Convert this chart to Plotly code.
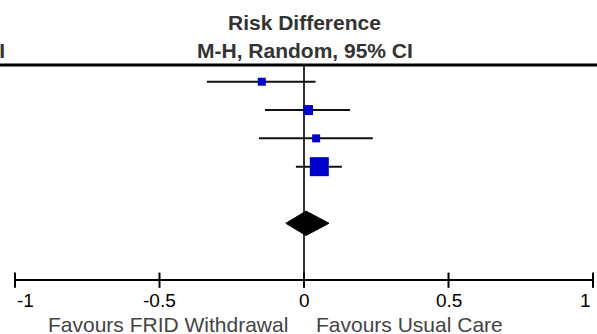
import plotly.graph_objects as go

# ---- data ----
study_est = [-0.146, 0.014, 0.042, 0.053]
study_lo = [-0.336, -0.135, -0.156, -0.028]
study_hi = [0.040, 0.159, 0.238, 0.131]
study_box = [8, 10, 8, 19]          # marker side (weight)
study_row = [0, 1, 2, 3]

pooled_est = 0.007
pooled_lo = -0.063
pooled_hi = 0.0865
pooled_row = 5

tick_vals = [-1, -0.5, 0, 0.5, 1]
tick_text = ["-1", "-0.5", "0", "0.5", "1"]

header1 = "Risk Difference"
header2 = "M-H, Random, 95% CI"
left_label = "Favours FRID Withdrawal"
right_label = "Favours Usual Care"

W, H = 597, 334
FONT = "Liberation Sans, Arial, sans-serif"

fig = go.Figure()

# CI lines
for r, lo, hi in zip(study_row, study_lo, study_hi):
    fig.add_trace(go.Scatter(x=[lo, hi], y=[r, r], mode="lines",
                             line=dict(color="#111", width=2), hoverinfo="skip"))
# boxes
fig.add_trace(go.Scatter(x=study_est, y=study_row, mode="markers", opacity=1,
                         marker=dict(symbol="square", size=study_box, color="#0000CC",
                                     opacity=1, line=dict(width=0)), hoverinfo="skip"))
# diamond
dh = 0.43
fig.add_trace(go.Scatter(
    x=[pooled_lo, pooled_est, pooled_hi, pooled_est, pooled_lo],
    y=[pooled_row, pooled_row - dh, pooled_row, pooled_row + dh, pooled_row],
    mode="lines", fill="toself", fillcolor="black", line=dict(color="black", width=1),
    hoverinfo="skip"))

axis_row = 7.0
top_row = -0.59
shapes = []
# top rule
shapes.append(dict(type="line", xref="paper", yref="y", x0=0, x1=1, y0=top_row, y1=top_row,
                   line=dict(color="black", width=3)))
# zero line
shapes.append(dict(type="line", xref="x", yref="y", x0=0, x1=0, y0=top_row, y1=axis_row,
                   line=dict(color="#333", width=2), layer="below"))
# axis line
shapes.append(dict(type="line", xref="x", yref="y", x0=tick_vals[0], x1=tick_vals[-1],
                   y0=axis_row, y1=axis_row, line=dict(color="black", width=2)))
for tv in tick_vals:
    shapes.append(dict(type="line", xref="x", yref="y", x0=tv, x1=tv,
                       y0=axis_row - 0.26, y1=axis_row + 0.28, line=dict(color="black", width=2)))

ann = []
for tv, tt in zip(tick_vals, tick_text):
    xa = "left" if tv == tick_vals[0] else ("right" if tv == tick_vals[-1] else "center")
    ann.append(dict(x=tv, y=7.71, xref="x", yref="y", text=tt, showarrow=False,
                    xanchor=xa, yanchor="middle", font=dict(family=FONT, size=19, color="#000")))
ann.append(dict(x=0.003, y=-2.11, xref="x", yref="y", text="<b>%s</b>" % header1, showarrow=False,
                xanchor="center", yanchor="middle", font=dict(family=FONT, size=21, color="#333")))
ann.append(dict(x=0.003, y=-1.12, xref="x", yref="y", text="<b>%s</b>" % header2, showarrow=False,
                xanchor="center", yanchor="middle", font=dict(family=FONT, size=21, color="#333")))
ann.append(dict(x=7 / W, y=-1.12, xref="paper", yref="y", text="<b>CI</b>", showarrow=False,
                xanchor="right", yanchor="middle", font=dict(family=FONT, size=21, color="#333")))
ann.append(dict(x=-0.05, y=8.58, xref="x", yref="y", text=left_label, showarrow=False,
                xanchor="right", yanchor="middle", font=dict(family=FONT, size=21, color="#444")))
ann.append(dict(x=0.035, y=8.58, xref="x", yref="y", text=right_label, showarrow=False,
                xanchor="left", yanchor="middle", font=dict(family=FONT, size=21, color="#444")))

fig.update_layout(
    width=W, height=H, margin=dict(l=0, r=0, t=0, b=0),
    paper_bgcolor="white", plot_bgcolor="white", showlegend=False,
    xaxis=dict(range=[-1.0519, 1.0138], visible=False, fixedrange=True),
    yaxis=dict(range=[8.91, -2.887], visible=False, fixedrange=True),
    shapes=shapes, annotations=ann,
)
fig.write_html("out.html")
